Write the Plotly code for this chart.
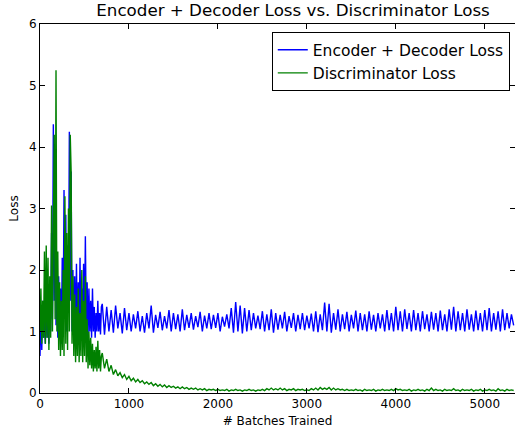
import plotly.graph_objects as go

# ---- data ----
early_batches = list(range(0, 700, 10))
late_batches = list(range(700, 5330, 25))

enc_dec_early = [
    0.6, 1.3, 0.7, 1.5, 0.9, 1.2, 0.8, 1.6, 0.9, 1.4,
    0.8, 1.8, 1.0, 2.6, 1.2, 4.37, 1.5, 3.7, 1.1, 2.0,
    0.9, 1.9, 1.0, 1.7, 0.8, 2.2, 1.0, 3.3, 1.2, 2.9,
    1.0, 2.4, 1.3, 4.25, 1.5, 3.6, 1.0, 2.0, 0.8, 1.9,
    1.0, 2.1, 0.9, 1.8, 1.1, 2.2, 0.9, 1.7, 1.2, 2.1,
    1.0, 2.55, 1.1, 1.8, 0.9, 1.7, 1.0, 1.5, 0.9, 1.7,
    1.0, 1.4, 0.9, 1.3, 1.0, 1.5, 1.0, 1.3, 0.95, 1.4,
]
enc_dec_late = [
    1.45, 0.95, 1.4, 1.0, 1.35, 0.98, 1.42, 1.05, 1.3, 0.97,
    1.38, 1.02, 1.3, 1.0, 1.28, 1.05, 1.33, 1.0, 1.25, 0.98,
    1.3, 1.05, 1.42, 0.98, 1.27, 1.06, 1.32, 1.02, 1.25, 1.05,
    1.35, 1.0, 1.3, 1.04, 1.28, 1.0, 1.36, 1.02, 1.27, 1.06,
    1.3, 1.03, 1.25, 1.07, 1.32, 1.0, 1.26, 1.05, 1.3, 1.04,
    1.27, 1.06, 1.3, 1.0, 1.24, 1.08, 1.28, 1.05, 1.38, 0.98,
    1.48, 1.0, 1.42, 0.97, 1.38, 1.0, 1.35, 1.02, 1.3, 1.05,
    1.26, 1.04, 1.33, 1.0, 1.28, 1.02, 1.36, 0.98, 1.3, 1.03,
    1.27, 1.05, 1.32, 1.0, 1.25, 1.06, 1.3, 1.0, 1.27, 1.04,
    1.3, 1.02, 1.26, 1.05, 1.29, 1.0, 1.33, 0.99, 1.28, 1.02,
    1.47, 1.0, 1.45, 0.98, 1.3, 1.03, 1.36, 1.0, 1.28, 1.04,
    1.32, 1.0, 1.27, 1.05, 1.34, 1.0, 1.3, 1.02, 1.28, 1.0,
    1.33, 1.03, 1.27, 1.0, 1.3, 1.05, 1.28, 1.0, 1.35, 1.02,
    1.3, 1.0, 1.4, 1.02, 1.33, 1.0, 1.36, 1.04, 1.3, 1.0,
    1.35, 1.02, 1.3, 1.0, 1.33, 1.04, 1.28, 1.0, 1.32, 1.03,
    1.3, 1.0, 1.34, 1.02, 1.28, 1.0, 1.36, 1.03, 1.4, 1.0,
    1.33, 1.02, 1.3, 1.0, 1.36, 1.03, 1.28, 1.0, 1.34, 1.02,
    1.3, 1.0, 1.35, 1.02, 1.38, 1.0, 1.3, 1.03, 1.33, 1.0,
    1.36, 1.02, 1.3, 1.05, 1.28, 1.1,
]

disc_early = [
    1.0, 1.7, 0.8, 1.5, 0.9, 2.3, 0.8, 2.4, 0.9, 2.2,
    0.7, 1.9, 0.9, 3.05, 1.0, 2.6, 4.2, 1.2, 5.25, 1.0,
    2.3, 0.7, 1.8, 0.6, 1.5, 0.7, 2.0, 0.6, 3.2, 0.8,
    2.6, 0.7, 3.0, 1.0, 4.2, 3.6, 0.8, 1.9, 0.6, 1.6,
    0.5, 1.4, 0.6, 1.7, 0.5, 1.3, 0.6, 2.0, 0.5, 1.5,
    0.6, 1.9, 0.5, 1.2, 0.4, 1.0, 0.45, 0.9, 0.4, 0.8,
    0.35, 0.7, 0.4, 0.75, 0.35, 0.85, 0.4, 0.7, 0.35, 0.6,
]
disc_late = [
    0.65, 0.4, 0.55, 0.35, 0.45, 0.3, 0.38, 0.28, 0.33, 0.25,
    0.3, 0.22, 0.27, 0.2, 0.24, 0.18, 0.22, 0.17, 0.2, 0.15,
    0.18, 0.14, 0.17, 0.12, 0.15, 0.11, 0.14, 0.1, 0.13, 0.09,
    0.12, 0.09, 0.11, 0.08, 0.1, 0.07, 0.1, 0.07, 0.09, 0.06,
    0.08, 0.06, 0.08, 0.05, 0.07, 0.05, 0.07, 0.04, 0.06, 0.05,
    0.06, 0.04, 0.06, 0.04, 0.05, 0.04, 0.06, 0.03, 0.05, 0.04,
    0.06, 0.04, 0.05, 0.03, 0.05, 0.04, 0.06, 0.04, 0.05, 0.03,
    0.05, 0.04, 0.06, 0.04, 0.07, 0.05, 0.08, 0.05, 0.07, 0.05,
    0.08, 0.05, 0.07, 0.04, 0.06, 0.05, 0.07, 0.04, 0.06, 0.05,
    0.06, 0.04, 0.05, 0.04, 0.07, 0.05, 0.08, 0.05, 0.09, 0.06,
    0.08, 0.06, 0.09, 0.05, 0.08, 0.05, 0.07, 0.05, 0.06, 0.04,
    0.06, 0.04, 0.05, 0.04, 0.06, 0.04, 0.05, 0.03, 0.06, 0.04,
    0.05, 0.04, 0.06, 0.03, 0.05, 0.04, 0.06, 0.04, 0.05, 0.04,
    0.06, 0.04, 0.07, 0.05, 0.06, 0.04, 0.05, 0.04, 0.06, 0.03,
    0.05, 0.04, 0.06, 0.04, 0.05, 0.03, 0.06, 0.04, 0.08, 0.04,
    0.06, 0.04, 0.05, 0.03, 0.06, 0.04, 0.05, 0.04, 0.07, 0.04,
    0.05, 0.03, 0.06, 0.04, 0.05, 0.04, 0.06, 0.03, 0.05, 0.04,
    0.06, 0.03, 0.05, 0.04, 0.06, 0.04, 0.05, 0.03, 0.07, 0.04,
    0.05, 0.03, 0.06, 0.04, 0.05, 0.04,
]

batches = early_batches + late_batches
enc_dec_loss = enc_dec_early + enc_dec_late
disc_loss = disc_early + disc_late

series_names = ["Encoder + Decoder Loss", "Discriminator Loss"]
x_ticks = [0, 1000, 2000, 3000, 4000, 5000]
y_ticks = [0, 1, 2, 3, 4, 5, 6]

FONT = "DejaVu Sans"

fig = go.Figure()
fig.add_trace(go.Scatter(x=batches, y=enc_dec_loss, mode="lines",
                         name=series_names[0],
                         line=dict(color="#0000ff", width=1.4)))
fig.add_trace(go.Scatter(x=batches, y=disc_loss, mode="lines",
                         name=series_names[1],
                         line=dict(color="#008000", width=1.4)))

axis_common = dict(
    showgrid=False, zeroline=False, showline=True, linecolor="black",
    linewidth=1, mirror="allticks", ticks="inside", ticklen=5,
    tickcolor="black", automargin=False,
    tickfont=dict(family=FONT, size=12, color="black"),
)

fig.update_layout(
    width=515, height=429,
    margin=dict(l=40, r=0, t=24, b=36, autoexpand=False),
    paper_bgcolor="white", plot_bgcolor="white",
    font=dict(family=FONT, color="black"),
    title=dict(text="Encoder + Decoder Loss vs. Discriminator Loss",
               x=0.569, xanchor="center", y=0.99, yanchor="top",
               automargin=False,
               font=dict(family=FONT, size=16.7, color="black")),
    xaxis=dict(range=[0, 5340], tickvals=x_ticks,
               title=dict(text="# Batches Trained", standoff=6,
                          font=dict(family=FONT, size=12)),
               **axis_common),
    yaxis=dict(range=[0, 6], tickvals=y_ticks,
               title=dict(text="Loss", standoff=7,
                          font=dict(family=FONT, size=12)),
               **axis_common),
    legend=dict(x=0.989, xanchor="right", y=0.978, yanchor="top",
                bgcolor="white", bordercolor="black", borderwidth=1,
                font=dict(family=FONT, size=15.5, color="black"),
                tracegroupgap=0, itemwidth=30),
    showlegend=True,
)

fig.write_html("out.html",
               config={"displayModeBar": False},
               post_script="document.body.style.margin='0';")
